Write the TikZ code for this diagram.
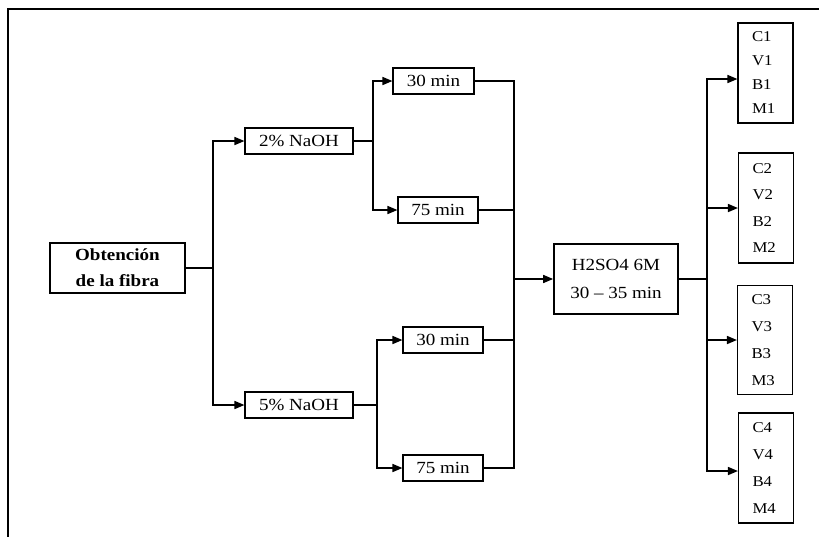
\documentclass[tikz,border=0pt]{standalone}
\usepackage{fontspec}
\setmainfont{Liberation Serif}[FakeStretch=1.12]
\usetikzlibrary{arrows.meta}
\begin{document}
\begin{tikzpicture}[x=1pt,y=-1pt,
  conn/.style={line width=1.6pt},
  arr/.style={conn,-{Triangle[length=10pt,width=8pt]}},
  sbox/.style={draw,line width=1.1pt,inner sep=0pt,font=\fontsize{17}{20}\selectfont},
  bbox/.style={draw,line width=1.7pt,inner sep=0pt,align=center},
  rbox/.style={draw,line width=1.1pt,inner xsep=14pt,inner ysep=0pt,text width=27pt,align=left,minimum width=55pt}]
\useasboundingbox (0,0) rectangle (819,536);
\draw[line width=2.4pt] (8,9) rectangle (840,560);
% nodes
\node[bbox,minimum width=135pt,minimum height=50pt,font=\fontsize{17}{26}\selectfont\bfseries] (ob) at (117.5,268) {Obtención\\de la fibra};
\node[sbox,minimum width=108pt,minimum height=26pt] (n2) at (299,141) {2\% NaOH};
\node[sbox,minimum width=108pt,minimum height=26pt] (n5) at (299,405) {5\% NaOH};
\node[sbox,minimum width=81pt,minimum height=26pt] (a30) at (433.5,81) {30 min};
\node[sbox,minimum width=80pt,minimum height=26pt] (a75) at (438,210) {75 min};
\node[sbox,minimum width=80pt,minimum height=26pt] (b30) at (443,340) {30 min};
\node[sbox,minimum width=80pt,minimum height=26pt] (b75) at (443,468) {75 min};
\node[bbox,minimum width=124pt,minimum height=70pt,font=\fontsize{17}{28}\selectfont] (h) at (616,279) {H2SO4 6M\\30 -- 35 min};
\node[rbox,minimum height=100pt,font=\fontsize{15}{24}\selectfont] (r1) at (765.5,73) {C1\\V1\\B1\\M1};
\node[rbox,minimum height=110pt,font=\fontsize{15}{26.5}\selectfont] (r2) at (766,208) {C2\\V2\\B2\\M2};
\node[rbox,minimum height=109pt,font=\fontsize{15}{27}\selectfont] (r3) at (765,340) {C3\\V3\\B3\\M3};
\node[rbox,minimum height=110pt,font=\fontsize{15}{27}\selectfont] (r4) at (766,468) {C4\\V4\\B4\\M4};
% junctions
\coordinate (j1) at (213,268);
\coordinate (j2) at (373,141);
\coordinate (j3) at (377,405);
\coordinate (m) at (514,279);
\coordinate (s) at (707,279);
% connectors
\draw[conn] (ob.east) -- (j1);
\draw[arr] (j1) |- (n2.west);
\draw[arr] (j1) |- (n5.west);
\draw[conn] (n2.east) -- (j2);
\draw[arr] (j2) |- (a30.west);
\draw[arr] (j2) |- (a75.west);
\draw[conn] (n5.east) -- (j3);
\draw[arr] (j3) |- (b30.west);
\draw[arr] (j3) |- (b75.west);
\draw[conn] (a30.east) -| (m);
\draw[conn] (a75.east) -| (m);
\draw[conn] (b30.east) -| (m);
\draw[conn] (b75.east) -| (m);
\draw[arr] (m) -- (h.west);
\draw[conn] (h.east) -- (s);
\draw[arr] (s) |- ([yshift=-6pt]r1.west);
\draw[arr] (s) |- (r2.west);
\draw[arr] (s) |- (r3.west);
\draw[arr] (s) |- ([yshift=-3pt]r4.west);
\end{tikzpicture}
\end{document}
